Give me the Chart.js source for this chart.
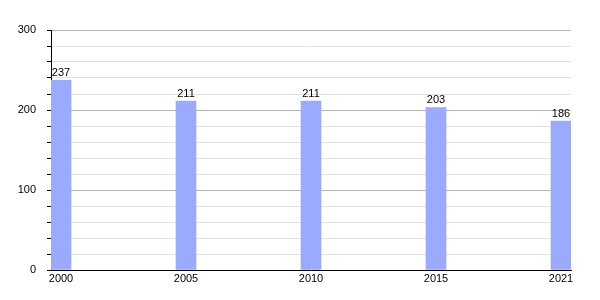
<!DOCTYPE html>
<html>
<head>
<meta charset="utf-8">
<script src="https://cdn.jsdelivr.net/npm/chart.js@4.4.1/dist/chart.umd.min.js"></script>
<style>
  html, body { margin: 0; padding: 0; background: #fff; }
  #wrap { width: 600px; height: 300px; }
</style>
</head>
<body>
<div id="wrap"><canvas id="myChart" width="600" height="300"></canvas></div>
<script>
const years = ['2000', '2005', '2010', '2015', '2021'];
const values = [237, 211, 211, 203, 186];
const yTicks = [0, 100, 200, 300];

// valeurs au-dessus des barres
const valueLabels = {
    id: 'valueLabels',
    afterDatasetsDraw(chart) {
        const ctx = chart.ctx;
        const meta = chart.getDatasetMeta(0);
        ctx.save();
        ctx.font = '11px "Liberation Sans", Arial, sans-serif';
        ctx.fillStyle = '#000';
        ctx.textAlign = 'center';
        ctx.textBaseline = 'bottom';
        meta.data.forEach((bar, i) => {
            ctx.fillText(values[i], bar.x, bar.y - 2);
        });
        ctx.restore();
    }
};

const ctx = document.getElementById('myChart').getContext('2d');
new Chart(ctx, {
    type: 'bar',
    data: {
        datasets: [{
            data: values.map((v, i) => ({ x: i, y: v })),
            backgroundColor: '#99aaff',
            borderWidth: 0,
            barThickness: 20
        }]
    },
    options: {
        responsive: false,
        animation: false,
        layout: { padding: { top: 30, right: 29, left: 0, bottom: 0 } },
        plugins: {
            legend: { display: false },
            tooltip: { enabled: false }
        },
        scales: {
            x: {
                type: 'linear',
                offset: false,
                min: -0.08,
                max: 4.08,
                afterFit: (scale) => { scale.height = 30; },
                grid: { display: false, drawTicks: false },
                border: { display: true, color: '#000', width: 1 },
                ticks: {
                    stepSize: 1,
                    includeBounds: false,
                    autoSkip: false,
                    maxRotation: 0,
                    padding: 2,
                    color: '#000',
                    font: { family: '"Liberation Sans", Arial, sans-serif', size: 11 },
                    callback: (v) => years[v] !== undefined && Number.isInteger(v) ? years[v] : ''
                }
            },
            y: {
                min: 0,
                max: 300,
                afterFit: (scale) => { scale.width = 51; },
                border: { display: true, color: '#000', width: 1 },
                grid: {
                    color: (c) => c.tick && yTicks.includes(c.tick.value) ? '#b4b4b4' : '#e2e2e2',
                    tickColor: '#000',
                    tickLength: 4
                },
                ticks: {
                    stepSize: 20,
                    autoSkip: false,
                    padding: 11,
                    color: '#000',
                    font: { family: '"Liberation Sans", Arial, sans-serif', size: 11 },
                    callback: (v) => yTicks.includes(v) ? v : ''
                }
            }
        }
    },
    plugins: [valueLabels]
});
</script>
</body>
</html>
